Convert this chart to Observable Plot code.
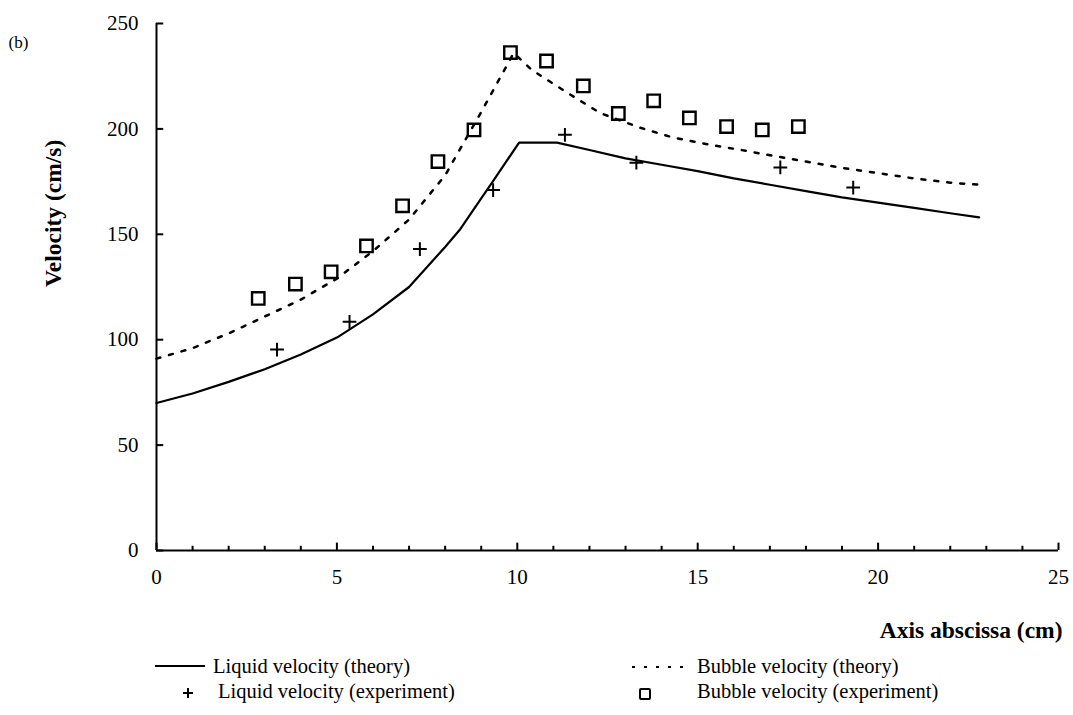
<!DOCTYPE html>
<html>
<head>
<meta charset="utf-8">
<script src="https://cdn.jsdelivr.net/npm/d3@7"></script>
<script src="https://cdn.jsdelivr.net/npm/@observablehq/plot@0.6"></script>
<style>
  html, body { margin: 0; padding: 0; background: #fff; }
  #wrap { position: relative; width: 1073px; height: 715px; font-family: 'Liberation Serif', 'Times New Roman', serif; color: #000; }
  #legend { position: absolute; left: 0; top: 655px; width: 1073px; height: 60px; font-size: 20.5px; }
  .item { position: absolute; white-space: nowrap; line-height: 20px; }
  .item svg { position: absolute; }
</style>
</head>
<body>
<div id="wrap">
  <div id="chart"></div>
  <div id="legend"></div>
</div>
<script>
// ---- data ----
const liquidTheoryX = [0, 1, 2, 3, 4, 5, 6, 7, 8, 8.4, 9, 9.3, 10.05, 11.1, 12, 13, 14, 15, 16, 17, 18, 19, 20, 21, 22, 22.8];
const liquidTheoryV = [70, 74.5, 80, 86, 93, 101, 112, 125, 144, 152, 167, 174.5, 193.5, 193.5, 190, 186, 183, 180, 176.5, 173.5, 170.5, 167.5, 165, 162.5, 160, 158];

const bubbleTheoryX = [0, 1, 2, 3, 4, 5, 6, 7, 8, 9, 9.9, 10.4, 11.4, 12.3, 13.4, 14.3, 15.3, 16.2, 17.1, 18, 19, 20, 21, 22, 22.8];
const bubbleTheoryV = [91, 96, 103, 111, 119, 129, 142, 157, 178, 208, 236, 228, 217, 207.5, 200.6, 196, 192.6, 190, 187.2, 184.5, 181.5, 179, 176.5, 174.5, 173.5];

const liquidExpX = [3.34, 5.35, 7.3, 9.33, 11.32, 13.3, 17.29, 19.31];
const liquidExpV = [95.3, 108.5, 143, 171, 197.2, 184, 181.7, 172.2];

const bubbleExpX = [2.82, 3.85, 4.84, 5.82, 6.82, 7.8, 8.8, 9.81, 10.81, 11.83, 12.8, 13.78, 14.77, 15.8, 16.79, 17.79];
const bubbleExpV = [119.6, 126.4, 132.2, 144.5, 163.5, 184.5, 199.5, 236.2, 232.2, 220.4, 207.3, 213.3, 205.2, 201.1, 199.5, 201.1];

const xTicks = [0, 5, 10, 15, 20, 25];
const xMinorTicks = [1, 2, 3, 4, 6, 7, 8, 9, 11, 12, 13, 14, 16, 17, 18, 19, 21, 22, 23, 24];
const yTicks = [0, 50, 100, 150, 200, 250];

const xLabel = "Axis abscissa (cm)";
const yLabel = "Velocity (cm/s)";
const panelLabel = "(b)";
const legendLabels = ["Liquid velocity (theory)", "Bubble velocity (theory)", "Liquid velocity (experiment)", "Bubble velocity (experiment)"];

// ---- tables ----
const liquidTheory = liquidTheoryX.map((x, i) => ({x, v: liquidTheoryV[i]}));
const bubbleTheory = bubbleTheoryX.map((x, i) => ({x, v: bubbleTheoryV[i]}));
const liquidExp = liquidExpX.map((x, i) => ({x, v: liquidExpV[i]}));
const bubbleExp = bubbleExpX.map((x, i) => ({x, v: bubbleExpV[i]}));

const H = 655;
const chart = Plot.plot({
  width: 1073,
  height: H,
  marginLeft: 156,
  marginRight: 15,
  marginTop: 23,
  marginBottom: H - 550,
  style: {fontFamily: "'Liberation Serif', 'Times New Roman', serif", color: "#000", background: "#fff", overflow: "visible"},
  x: {domain: [0, 25]},
  y: {domain: [0, 250]},
  marks: [
    Plot.axisX(xTicks, {tickSize: 0, tickPadding: 19, fontSize: 21, label: null}),
    Plot.axisY(yTicks, {tickSize: 0, tickPadding: 18, fontSize: 21, label: null}),
    // axes lines
    Plot.ruleY([0], {x1: 0, x2: 25, stroke: "#000", strokeWidth: 2}),
    Plot.ruleX([0], {y1: 0, y2: 250, stroke: "#000", strokeWidth: 2}),
    // inward ticks
    Plot.ruleX(xMinorTicks, {x: d => d, y1: 0, y2: 2, stroke: "#000", strokeWidth: 2}),
    Plot.ruleX(xTicks, {x: d => d, y1: 0, y2: 3.5, stroke: "#000", strokeWidth: 2}),
    Plot.ruleY(yTicks, {y: d => d, x1: 0, x2: 0.2, stroke: "#000", strokeWidth: 2}),
    // series
    Plot.line(liquidTheory, {x: "x", y: "v", stroke: "#000", strokeWidth: 2.2}),
    Plot.line(bubbleTheory, {x: "x", y: "v", stroke: "#000", strokeWidth: 2.5, strokeDasharray: "4,9"}),
    Plot.dot(liquidExp, {x: "x", y: "v", symbol: "plus", r: 4.5, stroke: "#000", strokeWidth: 2}),
    Plot.dot(bubbleExp, {x: "x", y: "v", symbol: "square", r: 7, stroke: "#000", fill: "none", strokeWidth: 2.4}),
    // titles
    Plot.text([xLabel], {frameAnchor: "bottom-right", dx: 4, dy: 87, text: d => d, textAnchor: "end", fontSize: 23.5, fontWeight: "bold"}),
    Plot.text([yLabel], {frameAnchor: "left", dx: -103, rotate: -90, text: d => d, fontSize: 23.5, fontWeight: "bold"}),
    Plot.text([panelLabel], {frameAnchor: "top-left", dx: -148, dy: 12, text: d => d, textAnchor: "start", fontSize: 17})
  ]
});
document.getElementById("chart").appendChild(chart);

// ---- legend ----
const legend = document.getElementById("legend");
function item(left, top, html) {
  const d = document.createElement("div");
  d.className = "item";
  d.style.left = left + "px";
  d.style.top = top + "px";
  d.innerHTML = html;
  legend.appendChild(d);
}
// row 1
item(155, 1, `<svg width="52" height="20" style="left:0;top:0"><line x1="0" y1="10" x2="50" y2="10" stroke="#000" stroke-width="2"/></svg><span style="margin-left:58px">${legendLabels[0]}</span>`);
item(632, 1, `<svg width="60" height="20" style="left:0;top:0"><line x1="0" y1="11" x2="58" y2="11" stroke="#000" stroke-width="2" stroke-dasharray="3,9"/></svg><span style="margin-left:65px">${legendLabels[1]}</span>`);
// row 2
item(180, 26, `<svg width="16" height="20" style="left:0;top:2"><line x1="3" y1="10" x2="13" y2="10" stroke="#000" stroke-width="2"/><line x1="8" y1="5" x2="8" y2="15" stroke="#000" stroke-width="2"/></svg><span style="margin-left:38px">${legendLabels[2]}</span>`);
item(637, 26, `<svg width="16" height="20" style="left:0;top:2"><rect x="3" y="6" width="10" height="10" rx="1" stroke="#000" fill="none" stroke-width="2"/></svg><span style="margin-left:60px">${legendLabels[3]}</span>`);
</script>
</body>
</html>
